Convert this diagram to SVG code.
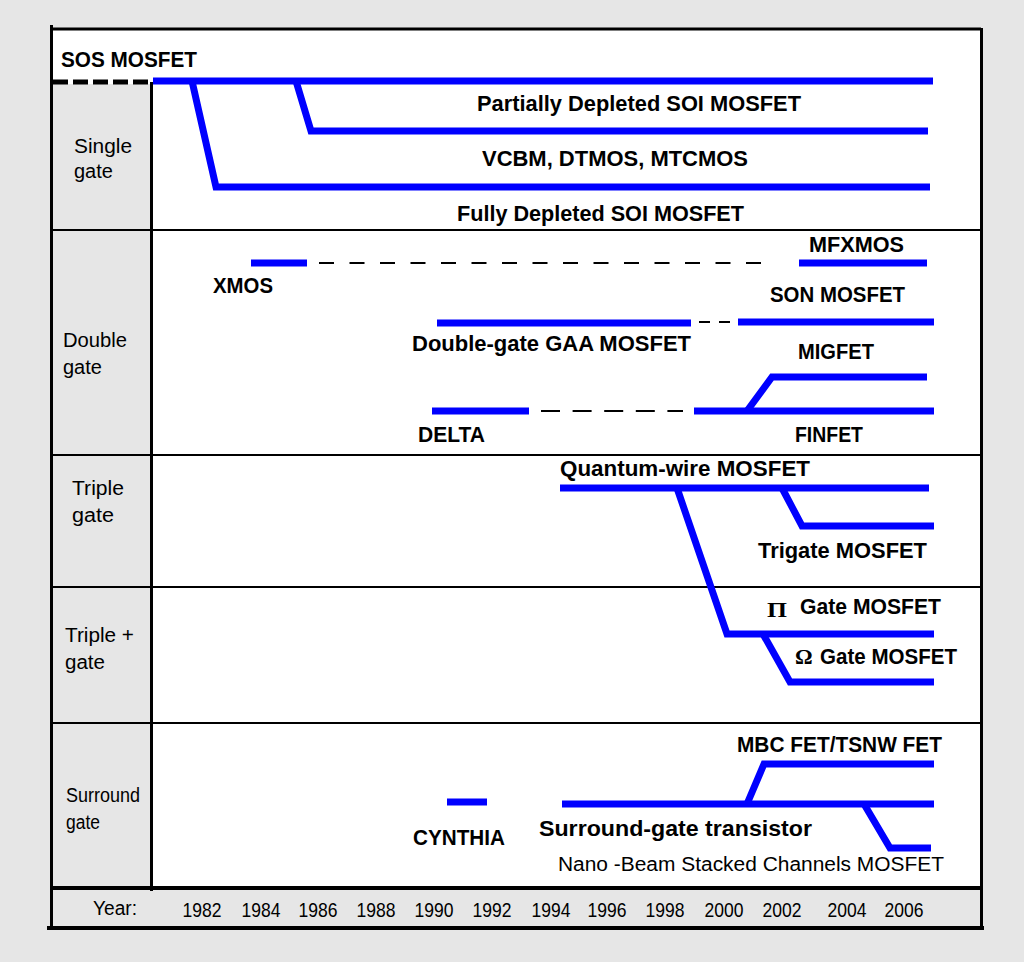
<svg xmlns="http://www.w3.org/2000/svg" width="1024" height="962" viewBox="0 0 1024 962">
<style>
.b{font-family:"Liberation Sans",Arial,sans-serif;font-weight:bold;font-size:22px;fill:#000}
.r{font-family:"Liberation Sans",Arial,sans-serif;font-size:20px;fill:#000}
.y{font-family:"Liberation Sans",Arial,sans-serif;font-size:21px;fill:#000;text-anchor:middle}
.s{font-family:"Liberation Serif","Times New Roman",serif;font-weight:bold;font-size:22px;fill:#000}
.ln{fill:none;stroke:#0000ff;stroke-width:7;stroke-linejoin:miter;stroke-linecap:butt}
.dl{fill:none;stroke:#000;stroke-width:2}
.grid{stroke:#000;stroke-width:2;fill:none}
</style>
<rect x="0" y="0" width="1024" height="962" fill="#e6e6e6"/>
<g id="frame">
  <rect x="51" y="29" width="930" height="899" fill="#ffffff"/>
  <rect x="51" y="84" width="100" height="804" fill="#e6e6e6"/>
  <rect x="51" y="888" width="930" height="40" fill="#e6e6e6"/>
  <line class="grid" x1="51" y1="230" x2="981" y2="230"/>
  <line class="grid" x1="51" y1="455" x2="981" y2="455"/>
  <line class="grid" x1="51" y1="587" x2="981" y2="587"/>
  <line class="grid" x1="51" y1="723" x2="981" y2="723"/>
  <line x1="151.5" y1="82" x2="151.5" y2="891" stroke="#000" stroke-width="3"/>
  <line x1="51" y1="888" x2="981" y2="888" stroke="#000" stroke-width="4"/>
  <line x1="51" y1="29" x2="981" y2="29" stroke="#000" stroke-width="3"/>
  <line x1="51.5" y1="25" x2="51.5" y2="930" stroke="#000" stroke-width="3"/>
  <line x1="981.5" y1="28" x2="981.5" y2="930" stroke="#000" stroke-width="3"/>
  <line x1="47" y1="928" x2="984" y2="928" stroke="#000" stroke-width="4"/>
  <line x1="53" y1="82" x2="153" y2="82" stroke="#000" stroke-width="5" stroke-dasharray="15 5"/>
</g>
<g id="row-labels">
  <g id="label-single"><text class="r" x="74" y="153" font-size="21" textLength="58" lengthAdjust="spacingAndGlyphs">Single</text><text class="r" x="74" y="178" font-size="21">gate</text></g>
  <g id="label-double"><text class="r" x="63" y="347" textLength="64" lengthAdjust="spacingAndGlyphs">Double</text><text class="r" x="63" y="374">gate</text></g>
  <g id="label-triple"><text class="r" x="72" y="495" textLength="52" lengthAdjust="spacingAndGlyphs">Triple</text><text class="r" x="72" y="522" textLength="42" lengthAdjust="spacingAndGlyphs">gate</text></g>
  <g id="label-tripleplus"><text class="r" x="65" y="642" textLength="69" lengthAdjust="spacingAndGlyphs">Triple +</text><text class="r" x="65" y="669" textLength="40" lengthAdjust="spacingAndGlyphs">gate</text></g>
  <g id="label-surround"><text class="r" x="66" y="802" font-size="18" textLength="74" lengthAdjust="spacingAndGlyphs">Surround</text><text class="r" x="66" y="829" font-size="18" textLength="34" lengthAdjust="spacingAndGlyphs">gate</text></g>
  <g id="label-year"><text class="r" x="93" y="915" font-size="19" textLength="44" lengthAdjust="spacingAndGlyphs">Year:</text></g>
</g>
<g id="years">
  <text class="y" x="202" y="917" textLength="39" lengthAdjust="spacingAndGlyphs">1982</text>
  <text class="y" x="261" y="917" textLength="39" lengthAdjust="spacingAndGlyphs">1984</text>
  <text class="y" x="318" y="917" textLength="39" lengthAdjust="spacingAndGlyphs">1986</text>
  <text class="y" x="376" y="917" textLength="39" lengthAdjust="spacingAndGlyphs">1988</text>
  <text class="y" x="434" y="917" textLength="39" lengthAdjust="spacingAndGlyphs">1990</text>
  <text class="y" x="492" y="917" textLength="39" lengthAdjust="spacingAndGlyphs">1992</text>
  <text class="y" x="551" y="917" textLength="39" lengthAdjust="spacingAndGlyphs">1994</text>
  <text class="y" x="607" y="917" textLength="39" lengthAdjust="spacingAndGlyphs">1996</text>
  <text class="y" x="665" y="917" textLength="39" lengthAdjust="spacingAndGlyphs">1998</text>
  <text class="y" x="724" y="917" textLength="39" lengthAdjust="spacingAndGlyphs">2000</text>
  <text class="y" x="782" y="917" textLength="39" lengthAdjust="spacingAndGlyphs">2002</text>
  <text class="y" x="847" y="917" textLength="39" lengthAdjust="spacingAndGlyphs">2004</text>
  <text class="y" x="904" y="917" textLength="39" lengthAdjust="spacingAndGlyphs">2006</text>
</g>
<g id="connectors">
  <path class="ln" d="M153 81 H933"/>
  <path class="ln" d="M192 81 L216 187 H930"/>
  <path class="ln" d="M296 81 L311 131 H928"/>
  <path class="ln" d="M251 263 H307"/>
  <path class="dl" d="M319 263 H770" stroke-dasharray="15 15.5"/>
  <path class="ln" d="M799 263 H927"/>
  <path class="ln" d="M437 323 H691"/>
  <path class="dl" d="M699 322 H731" stroke-dasharray="11 9"/>
  <path class="ln" d="M738 322 H934"/>
  <path class="ln" d="M432 411 H529"/>
  <path class="dl" d="M541 411 H683" stroke-dasharray="19 12.6"/>
  <path class="ln" d="M694 411 H934"/>
  <path class="ln" d="M747 411 L772 377 H927"/>
  <path class="ln" d="M560 488 H929"/>
  <path class="ln" d="M782 488 L802 526 H934"/>
  <path class="ln" d="M677 488 L727 634 H934"/>
  <path class="ln" d="M763 634 L790 682 H934"/>
  <path class="ln" d="M447 802 H487"/>
  <path class="ln" d="M562 804 H934"/>
  <path class="ln" d="M747 804 L764 764 H934"/>
  <path class="ln" d="M864 804 L890 848 H931"/>
</g>
<g id="node-sos"><text class="b" x="61" y="67" font-size="21" textLength="136" lengthAdjust="spacingAndGlyphs">SOS MOSFET</text></g>
<g id="node-pdsoi"><text class="b" x="477" y="111" textLength="324" lengthAdjust="spacingAndGlyphs">Partially Depleted SOI MOSFET</text></g>
<g id="node-vcbm"><text class="b" x="482" y="166" textLength="266" lengthAdjust="spacingAndGlyphs">VCBM, DTMOS, MTCMOS</text></g>
<g id="node-fdsoi"><text class="b" x="457" y="221" textLength="287" lengthAdjust="spacingAndGlyphs">Fully Depleted SOI MOSFET</text></g>
<g id="node-mfxmos"><text class="b" x="809" y="252" textLength="95" lengthAdjust="spacingAndGlyphs">MFXMOS</text></g>
<g id="node-xmos"><text class="b" x="213" y="293" textLength="60" lengthAdjust="spacingAndGlyphs">XMOS</text></g>
<g id="node-son"><text class="b" x="770" y="302" textLength="135" lengthAdjust="spacingAndGlyphs">SON MOSFET</text></g>
<g id="node-dggaa"><text class="b" x="412" y="351" textLength="279" lengthAdjust="spacingAndGlyphs">Double-gate GAA MOSFET</text></g>
<g id="node-migfet"><text class="b" x="798" y="359" textLength="76" lengthAdjust="spacingAndGlyphs">MIGFET</text></g>
<g id="node-delta"><text class="b" x="418" y="442" textLength="67" lengthAdjust="spacingAndGlyphs">DELTA</text></g>
<g id="node-finfet"><text class="b" x="795" y="442" textLength="68" lengthAdjust="spacingAndGlyphs">FINFET</text></g>
<g id="node-qwire"><text class="b" x="560" y="476" textLength="250" lengthAdjust="spacingAndGlyphs">Quantum-wire MOSFET</text></g>
<g id="node-trigate"><text class="b" x="758" y="558" textLength="169" lengthAdjust="spacingAndGlyphs">Trigate MOSFET</text></g>
<g id="node-pigate"><text class="s" x="767" y="617" font-size="27" textLength="20" lengthAdjust="spacingAndGlyphs">Π</text><text class="b" x="800" y="614" textLength="141" lengthAdjust="spacingAndGlyphs">Gate MOSFET</text></g>
<g id="node-omegagate"><text class="s" x="795" y="664" font-size="23">Ω</text><text class="b" x="820" y="664" textLength="137" lengthAdjust="spacingAndGlyphs">Gate MOSFET</text></g>
<g id="node-mbc"><text class="b" x="737" y="752" textLength="205" lengthAdjust="spacingAndGlyphs">MBC FET/TSNW FET</text></g>
<g id="node-cynthia"><text class="b" x="413" y="845" textLength="92" lengthAdjust="spacingAndGlyphs">CYNTHIA</text></g>
<g id="node-sgt"><text class="b" x="539" y="836" textLength="273" lengthAdjust="spacingAndGlyphs">Surround-gate transistor</text></g>
<g id="node-nano"><text class="r" x="558" y="871" font-size="21" textLength="386" lengthAdjust="spacingAndGlyphs">Nano -Beam Stacked Channels MOSFET</text></g>
</svg>
